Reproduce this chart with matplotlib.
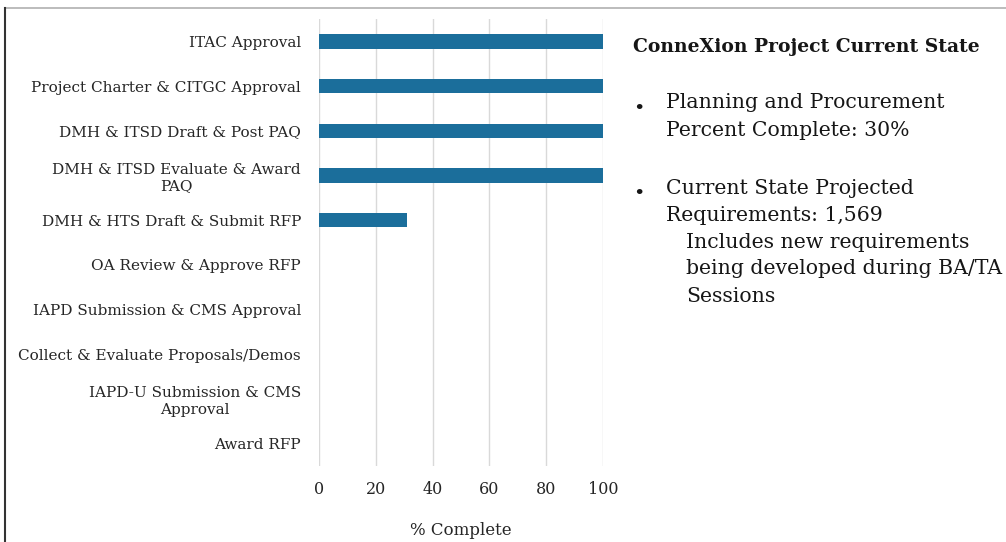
import matplotlib
matplotlib.use("Agg")
import matplotlib.pyplot as plt
from matplotlib.lines import Line2D

categories = [
    "ITAC Approval",
    "Project Charter & CITGC Approval",
    "DMH & ITSD Draft & Post PAQ",
    "DMH & ITSD Evaluate & Award\nPAQ",
    "DMH & HTS Draft & Submit RFP",
    "OA Review & Approve RFP",
    "IAPD Submission & CMS Approval",
    "Collect & Evaluate Proposals/Demos",
    "IAPD-U Submission & CMS\nApproval",
    "Award RFP",
]
values = [100, 100, 100, 100, 31, 0, 0, 0, 0, 0]
xticks = [0, 20, 40, 60, 80, 100]
xlabel = "% Complete"

title = "ConneXion Project Current State"
bullet1 = ["Planning and Procurement", "Percent Complete: 30%"]
bullet2 = ["Current State Projected", "Requirements: 1,569"]
sub = ["Includes new requirements", "being developed during BA/TA", "Sessions"]

FONT = "DejaVu Serif"
plt.rcParams["font.family"] = [FONT, "DejaVu Sans"]

fig = plt.figure(figsize=(10.06, 5.42), dpi=100)
ax = fig.add_axes([319/1006, 1 - 466/542, 284/1006, 447/542])

y = list(range(len(categories)))
ax.barh(y, values, height=0.32, color="#1b6e9b", zorder=3)
ax.set_ylim(len(categories) - 0.5, -0.5)
ax.set_xlim(0, 100)
ax.set_xticks(xticks)
ax.set_yticks(y)
ax.set_yticklabels(categories, fontsize=11, color="#262626", multialignment="center")
ax.tick_params(axis="y", length=0, pad=13)
ax.tick_params(axis="x", length=0, pad=11, labelsize=11.5, labelcolor="#262626")
ax.grid(axis="x", color="#d9d9d9", linewidth=1, zorder=0)
for s in ax.spines.values():
    s.set_visible(False)
ax.set_xlabel(xlabel, fontsize=12, color="#262626", labelpad=17)

# frame lines
fig.add_artist(Line2D([5/1006, 1], [1 - 8/542, 1 - 8/542], transform=fig.transFigure, color="#b0b0b0", lw=1.2))
fig.add_artist(Line2D([5/1006, 5/1006], [0, 1 - 8/542], transform=fig.transFigure, color="#333333", lw=1.5))

def fx(px):
    return px / 1006
def fy(py):
    return 1 - py / 542

TC = "#161616"
fig.text(fx(633), fy(47), title, fontsize=13.5, fontweight="bold", va="center", ha="left", color=TC)
fig.text(fx(633), fy(109), "•", fontsize=14, va="center", ha="left", color=TC)
fig.text(fx(633), fy(194), "•", fontsize=14, va="center", ha="left", color=TC)
for txt, py in zip(bullet1, [102, 130]):
    fig.text(fx(666), fy(py), txt, fontsize=14.7, va="center", ha="left", color=TC)
for txt, py in zip(bullet2, [188, 215]):
    fig.text(fx(666), fy(py), txt, fontsize=14.7, va="center", ha="left", color=TC)
for txt, py in zip(sub, [242, 269, 296]):
    fig.text(fx(686), fy(py), txt, fontsize=14.7, va="center", ha="left", color=TC)

fig.savefig("out.png", dpi=100, facecolor="white")
